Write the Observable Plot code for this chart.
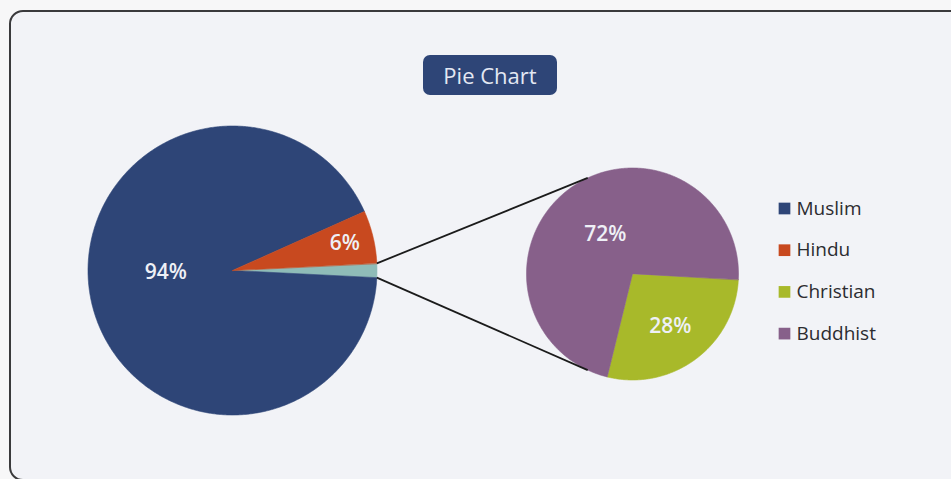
<!DOCTYPE html>
<html>
<head>
<meta charset="utf-8">
<script src="https://cdn.jsdelivr.net/npm/d3@7"></script>
<script src="https://cdn.jsdelivr.net/npm/@observablehq/plot@0.6"></script>
<style>
  html, body { margin: 0; padding: 0; background: #f7f7f8; width: 951px; height: 479px; overflow: hidden; font-family: "Open Sans", sans-serif; }
  #frame { position: absolute; left: 9px; top: 10px; width: 970px; height: 467px; border: 2px solid #3a3a3c; border-radius: 14px; background: #f2f3f7; }
  #title { position: absolute; left: 423px; top: 55px; width: 134px; height: 40px; background: #2e4577; border-radius: 7px; color: #e3e8f3; font-size: 22px; line-height: 40px; text-align: center; font-family: "Open Sans", sans-serif; }
  #chart { position: absolute; left: 0; top: 0; }
</style>
</head>
<body>
<div id="frame"></div>
<div id="title">Pie Chart</div>
<div id="chart"></div>
<script>
// ---- data ----
const categories = ["Muslim", "Hindu", "Christian", "Buddhist"];
const categoryColors = ["#2e4577", "#c8491f", "#a8b92a", "#87608a"];
const otherName = "Other";
const otherColor = "#8fbcb8";

const leftSlices = ["Muslim", "Hindu", "Other"];
const leftValues = [94, 6, 1.6];
const leftLabels = ["94%", "6%", ""];

const rightSlices = ["Christian", "Buddhist"];
const rightValues = [28, 72];
const rightLabels = ["28%", "72%"];

// ---- layout ----
const W = 951, H = 479;
const left = {cx: 232, cy: 270, r: 144.5, labelR: [0.47, 0.8, 0], labelDy: [-11, 0, 0]};
const right = {cx: 632, cy: 273.5, r: 106, startDeg: 93, labelR: [0.6, 0.43], labelDy: [1, -3]};
const connectorDeg = [-25, 205];
const legend = {x: 784, textX: 796, y0: 208, dy: 41.7};

const rad = Math.PI / 180;
const pt = (p, a, f = 1) => ({x: p.cx + p.r * f * Math.sin(a), y: p.cy - p.r * f * Math.cos(a)});

// left pie: "Other" slice centred on 3 o'clock, then Muslim clockwise, then Hindu
const leftOrder = [2, 0, 1];
const leftTotal = d3.sum(leftValues);
const otherAngle = 2 * Math.PI * leftValues[2] / leftTotal;
const leftStart = Math.PI / 2 - otherAngle / 2;
const leftArcs = d3.pie().sort(null).value(i => leftValues[i])
  .startAngle(leftStart).endAngle(leftStart + 2 * Math.PI)(leftOrder);

const rightStart = right.startDeg * rad;
const rightArcs = d3.pie().sort(null).value(i => rightValues[i])
  .startAngle(rightStart).endAngle(rightStart + 2 * Math.PI)(d3.range(rightSlices.length));

function slicePoints(arcs, names, pie, tag) {
  const pts = [];
  for (const a of arcs) {
    const key = tag + names[a.data];
    pts.push({key, cat: names[a.data], x: pie.cx, y: pie.cy});
    const n = Math.max(4, Math.ceil((a.endAngle - a.startAngle) / (0.5 * rad)));
    for (let k = 0; k <= n; k++) {
      const ang = a.startAngle + (a.endAngle - a.startAngle) * k / n;
      pts.push({key, cat: names[a.data], ...pt(pie, ang)});
    }
  }
  return pts;
}
const slices = [
  ...slicePoints(leftArcs, leftSlices, left, "L"),
  ...slicePoints(rightArcs, rightSlices, right, "R")
];

function labelsFor(arcs, labels, pie) {
  return arcs.filter(a => labels[a.data]).map(a => {
    const mid = (a.startAngle + a.endAngle) / 2;
    const p = pt(pie, mid, pie.labelR[a.data]);
    return {text: labels[a.data], x: p.x, y: p.y + pie.labelDy[a.data]};
  });
}
const labelData = [...labelsFor(leftArcs, leftLabels, left), ...labelsFor(rightArcs, rightLabels, right)];

const otherArc = leftArcs.find(a => leftSlices[a.data] === otherName);
const connectors = [
  {a: pt(left, otherArc.startAngle), b: pt(right, connectorDeg[0] * rad)},
  {a: pt(left, otherArc.endAngle), b: pt(right, connectorDeg[1] * rad)}
];

const legendData = categories.map((name, i) => ({name, y: legend.y0 + i * legend.dy}));

const chart = Plot.plot({
  width: W, height: H, margin: 0,
  x: {domain: [0, W], range: [0, W], axis: null},
  y: {domain: [0, H], range: [0, H], axis: null},
  color: {domain: [...categories, otherName], range: [...categoryColors, otherColor]},
  style: {background: "transparent", fontFamily: "Open Sans", overflow: "visible"},
  marks: [
    Plot.line(slices, {x: "x", y: "y", z: "key", fill: "cat", stroke: "cat", strokeWidth: 0.6, curve: "linear-closed"}),
    Plot.link(connectors, {x1: d => d.a.x, y1: d => d.a.y, x2: d => d.b.x, y2: d => d.b.y, stroke: "#1b1b1b", strokeWidth: 1.8}),
    Plot.text(labelData, {x: "x", y: "y", text: "text", fill: "#eef0f6", fontSize: 21, fontWeight: 600, fontFamily: "Open Sans"}),
    Plot.dot(legendData, {x: () => legend.x, y: "y", symbol: "square", r: 6.6, fill: "name", stroke: null}),
    Plot.text(legendData, {x: () => legend.textX, y: "y", text: "name", textAnchor: "start", fill: "#2c2c30", fontSize: 19, fontFamily: "Open Sans"})
  ]
});
document.getElementById("chart").appendChild(chart);
</script>
</body>
</html>
